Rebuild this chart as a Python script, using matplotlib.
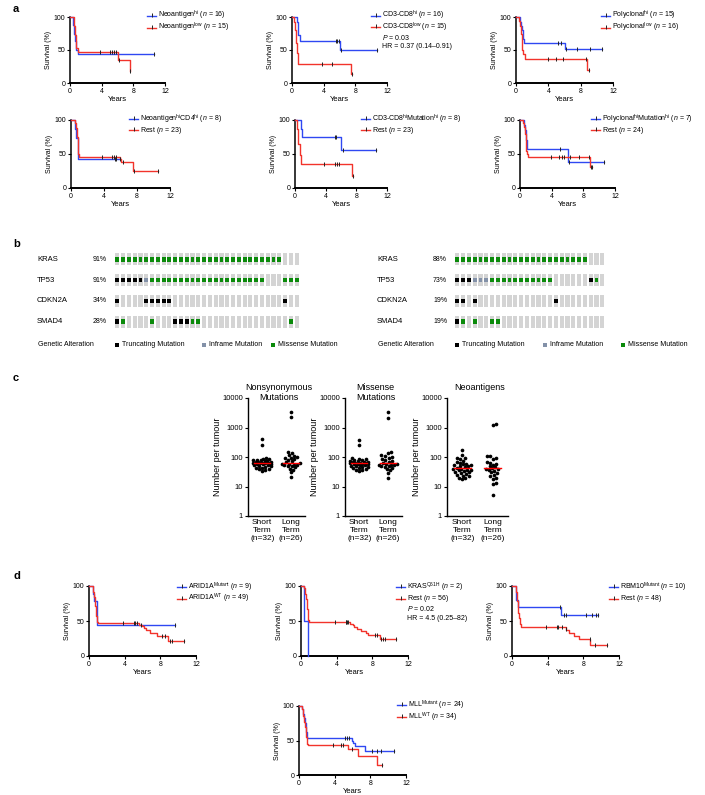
import numpy as np
import matplotlib
matplotlib.use('Agg')
import matplotlib.pyplot as plt

plt.rcParams['font.family'] = ['Liberation Sans', 'DejaVu Sans']
plt.rcParams['mathtext.fontset'] = 'custom'
plt.rcParams['mathtext.rm'] = 'Liberation Sans'
plt.rcParams['mathtext.it'] = 'Liberation Sans:italic'
plt.rcParams['mathtext.bf'] = 'Liberation Sans:bold'

BLUE = '#2f48f2'
RED = '#f2332b'

# ---- panel a: Kaplan-Meier step data (time in years, survival %) and censor times
a1_hi_t = [0, 0.42, 0.55, 0.65, 0.75, 0.95, 10.65]
a1_hi_s = [100, 88, 75, 63, 50, 44, 44]
a1_hi_c = [10.65]
a1_lo_t = [0, 0.5, 0.6, 0.7, 0.8, 1.0, 6.0, 7.55, 7.6]
a1_lo_s = [100, 87, 73, 60, 53, 47, 35, 18, 18]
a1_lo_c = [3.8, 5.0, 5.3, 5.5, 5.8, 6.2, 7.6]

a2_hi_t = [0, 0.6, 0.8, 0.95, 6.05, 10.7]
a2_hi_s = [100, 92, 73, 63, 50, 50]
a2_hi_c = [5.5, 5.7, 5.9, 6.2, 10.7]
a2_lo_t = [0, 0.25, 0.4, 0.55, 0.65, 0.8, 7.5, 7.55]
a2_lo_s = [100, 93, 80, 60, 45, 29, 14, 14]
a2_lo_c = [3.8, 5.1, 7.55]

a3_hi_t = [0, 0.5, 0.6, 0.7, 0.85, 1.0, 6.0, 10.6]
a3_hi_s = [100, 93, 87, 80, 67, 60, 51, 51]
a3_hi_c = [5.2, 5.6, 6.2, 7.5, 9.2, 10.6]
a3_lo_t = [0, 0.4, 0.5, 0.6, 0.7, 0.8, 0.9, 1.1, 8.8, 9.0]
a3_lo_s = [100, 94, 87, 75, 63, 50, 44, 37, 19, 19]
a3_lo_c = [3.9, 4.9, 5.8, 8.7, 9.0]

a4_hi_t = [0, 0.45, 0.6, 0.8, 5.9]
a4_hi_s = [100, 87, 73, 42, 42]
a4_hi_c = [5.3, 5.5, 5.9]
a4_lo_t = [0, 0.5, 0.6, 0.7, 0.8, 0.9, 1.0, 5.9, 6.1, 7.5, 10.6]
a4_lo_s = [100, 96, 88, 75, 62, 50, 46, 42, 38, 25, 25]
a4_lo_c = [3.8, 5.0, 5.2, 5.5, 6.3, 7.6, 10.6]

a5_hi_t = [0, 0.75, 0.9, 6.0, 10.6]
a5_hi_s = [100, 87, 75, 56, 56]
a5_hi_c = [5.2, 5.4, 6.2, 10.6]
a5_lo_t = [0, 0.3, 0.45, 0.6, 0.8, 7.45, 7.5]
a5_lo_s = [100, 87, 65, 48, 35, 17, 17]
a5_lo_c = [3.8, 5.2, 5.5, 5.8, 7.5]

a6_hi_t = [0, 0.5, 0.6, 0.75, 0.9, 6.0, 10.6]
a6_hi_s = [100, 93, 86, 71, 57, 38, 38]
a6_hi_c = [5.1, 6.2, 10.6]
a6_lo_t = [0, 0.4, 0.5, 0.6, 0.7, 0.8, 0.9, 1.0, 8.8, 9.1]
a6_lo_s = [100, 95, 90, 80, 70, 55, 50, 46, 31, 31]
a6_lo_c = [3.9, 4.9, 5.3, 5.5, 6.3, 7.5, 8.7, 8.95, 9.1]

# ---- panel d
d1_mut_t = [0, 0.5, 0.6, 0.85, 9.6]
d1_mut_s = [100, 89, 78, 44, 44]
d1_mut_c = [9.6]
d1_wt_t = [0, 0.4, 0.5, 0.55, 0.6, 0.65, 0.7, 0.75, 0.8, 0.85, 0.9, 1.0,
           5.6, 6.0, 6.2, 6.4, 6.8, 7.6, 8.9, 10.6]
d1_wt_s = [100, 96, 92, 88, 84, 78, 72, 64, 57, 51, 49, 47,
           45, 43, 40, 37, 33, 29, 22, 22]
d1_wt_c = [3.8, 5.0, 5.2, 5.4, 5.8, 8.2, 8.5, 9.1, 9.3, 10.6]

d2_mut_t = [0, 0.3, 0.8]
d2_mut_s = [100, 50, 0]
d2_mut_c = []
d2_rest_t = [0, 0.3, 0.4, 0.5, 0.6, 0.65, 0.7, 0.75, 0.8, 0.9,
             5.5, 5.8, 6.0, 6.3, 6.7, 7.3, 7.5, 8.9, 10.6]
d2_rest_s = [100, 97, 93, 88, 82, 75, 67, 60, 52, 48,
             46, 44, 42, 39, 36, 33, 30, 25, 25]
d2_rest_c = [3.8, 5.0, 5.1, 5.2, 5.3, 8.3, 8.5, 9.0, 9.2, 9.4, 10.6]

d3_mut_t = [0, 0.4, 0.5, 0.7, 5.5, 9.6]
d3_mut_s = [100, 90, 80, 70, 58, 58]
d3_mut_c = [5.4, 5.8, 6.0, 8.3, 9.0, 9.4, 9.6]
d3_rest_t = [0, 0.4, 0.5, 0.55, 0.6, 0.65, 0.7, 0.75, 0.85, 1.0,
             6.0, 6.1, 6.4, 7.0, 7.5, 8.8, 10.6]
d3_rest_s = [100, 96, 92, 85, 78, 70, 62, 55, 46, 41,
             39, 37, 33, 29, 25, 16, 16]
d3_rest_c = [3.8, 5.0, 5.2, 5.6, 6.0, 8.7, 9.3, 10.6]

d4_mut_t = [0, 0.3, 0.4, 0.5, 0.6, 0.7, 0.8, 0.9, 5.9, 6.1, 6.3, 7.4, 10.6]
d4_mut_s = [100, 96, 92, 88, 83, 75, 63, 54, 50, 46, 42, 35, 35]
d4_mut_c = [5.2, 5.4, 5.6, 8.2, 8.7, 9.2, 10.6]
d4_wt_t = [0, 0.3, 0.5, 0.6, 0.7, 0.8, 0.9, 1.0, 5.5, 6.65, 8.8, 9.3]
d4_wt_s = [100, 95, 85, 77, 70, 55, 45, 43, 38, 28, 14, 14]
d4_wt_c = [3.8, 4.7, 4.9, 6.0, 9.3]

# ---- panel b: oncoprint (T truncating, I inframe, M missense, - none)
genes = ['KRAS', 'TP53', 'CDKN2A', 'SMAD4']
short_pct = ['91%', '91%', '34%', '28%']
long_pct = ['88%', '73%', '19%', '19%']
short_alt = [
    'M' * 29 + '---',
    'TTTTTI' + 'M' * 20 + '---MMM',
    'T----TTTTT' + '-' * 19 + 'T--',
    'TM----M---TTTMM' + '-' * 15 + 'M-',
]
long_alt = [
    'M' * 23 + '---',
    'TTTIII' + 'M' * 11 + '-' * 6 + 'TM-',
    'TT-T' + '-' * 13 + 'T' + '-' * 8,
    'TM-M--MM' + '-' * 18,
]

# ---- panel c: mutation / neoantigen counts per tumour
nonsyn_short = [404, 259, 92, 88, 85, 82, 80, 78, 75, 72, 70, 68, 66, 65, 64, 62,
                62, 61, 60, 58, 56, 55, 53, 50, 48, 46, 44, 42, 40, 38, 36, 34]
nonsyn_long = [3300, 2200, 150, 140, 120, 110, 100, 95, 90, 85, 78, 72, 66,
               62, 58, 56, 55, 54, 52, 50, 48, 45, 40, 36, 30, 21]
missense_short = [390, 250, 90, 86, 83, 80, 78, 76, 73, 70, 68, 66, 64, 63, 62, 61,
                  60, 59, 58, 56, 55, 53, 51, 49, 47, 45, 43, 41, 39, 37, 35, 33]
missense_long = [3250, 2150, 145, 135, 115, 105, 98, 92, 88, 82, 75, 70, 64,
                 60, 57, 55, 54, 53, 51, 49, 47, 44, 39, 35, 29, 20]
neo_short = [170, 120, 95, 90, 85, 75, 70, 65, 60, 58, 55, 52, 50, 48, 45, 42,
             40, 38, 37, 36, 35, 33, 31, 30, 28, 27, 25, 23, 22, 20, 19, 18]
neo_long = [1300, 1250, 110, 105, 95, 85, 70, 65, 60, 55, 50, 45, 42,
            40, 38, 36, 34, 30, 28, 25, 22, 20, 18, 13, 12, 5]
group_labels = ['Short\nTerm\n(n=32)', 'Long\nTerm\n(n=26)']

W, H = 705, 795
fig = plt.figure(figsize=(W / 100, H / 100), dpi=100)


def px_axes(l, t, r, b):
    return fig.add_axes([l / W, 1 - b / H, (r - l) / W, (b - t) / H])


# overlay in pixel coordinates for legends and loose text
ov = fig.add_axes([0, 0, 1, 1], zorder=10)
ov.set_xlim(0, W)
ov.set_ylim(H, 0)
ov.axis('off')


def km_curve(ax, t, s, cens, color):
    ax.step(t, s, where='post', color=color, lw=1, clip_on=False, zorder=3)
    t = np.asarray(t, float)
    s = np.asarray(s, float)
    cens = np.asarray(cens, float)
    if len(cens):
        idx = np.searchsorted(t, cens, side='right') - 1
        ax.plot(cens, s[idx], ls='none', marker='|', ms=3, mew=0.7,
                color='#222222', clip_on=False, zorder=4)


def style_km(ax):
    ax.set_xlim(0, 12)
    ax.set_ylim(0, 100)
    ax.set_xticks([0, 4, 8, 12])
    ax.set_yticks([0, 50, 100])
    ax.spines['top'].set_visible(False)
    ax.spines['right'].set_visible(False)
    ax.spines['left'].set_linewidth(1.1)
    ax.spines['bottom'].set_linewidth(1.4)
    ax.tick_params(length=2.5, width=0.8, labelsize=5, pad=1)
    ax.set_ylabel('Survival (%)', fontsize=5, labelpad=1)
    ax.set_xlabel('Years', fontsize=5.5, labelpad=0.5)


def legend_item(x, y, color, label):
    ov.plot([x, x + 9], [y, y], color=color, lw=1)
    ov.plot([x + 4.5], [y - 0.8], marker='|', ms=3, mew=0.7, color='#222222')
    ov.text(x + 11, y, label, fontsize=5, va='center', ha='left')


def n_lab(name, sup, n):
    return name + r'$^{\mathrm{' + sup + r'}}$ ($\it{n}$ = ' + str(n) + ')'


km_panels = [
    dict(rect=(70, 17, 165, 83), lx=147, ly=[15.5, 27.5],
         curves=[(a1_hi_t, a1_hi_s, a1_hi_c), (a1_lo_t, a1_lo_s, a1_lo_c)],
         labels=[n_lab('Neoantigen', 'hi', 16), n_lab('Neoantigen', 'low', 15)]),
    dict(rect=(292, 17, 387, 83), lx=371, ly=[15.5, 27],
         curves=[(a2_hi_t, a2_hi_s, a2_hi_c), (a2_lo_t, a2_lo_s, a2_lo_c)],
         labels=[n_lab('CD3-CD8', 'hi', 16), n_lab('CD3-CD8', 'low', 15)],
         extra=[r'$\it{P}$ = 0.03', 'HR = 0.37 (0.14–0.91)']),
    dict(rect=(516, 17, 613, 83), lx=601, ly=[15.5, 27.5],
         curves=[(a3_hi_t, a3_hi_s, a3_hi_c), (a3_lo_t, a3_lo_s, a3_lo_c)],
         labels=[n_lab('Polyclonal', 'hi', 15), n_lab('Polyclonal', 'low', 16)]),
    dict(rect=(71, 120, 170, 188), lx=129, ly=[119, 130],
         curves=[(a4_hi_t, a4_hi_s, a4_hi_c), (a4_lo_t, a4_lo_s, a4_lo_c)],
         labels=[r'Neoantigen$^{\mathrm{hi}}$' + n_lab('CD4', 'hi', 8),
                 r'Rest ($\it{n}$ = 23)']),
    dict(rect=(295, 120, 387, 188), lx=361, ly=[119, 130],
         curves=[(a5_hi_t, a5_hi_s, a5_hi_c), (a5_lo_t, a5_lo_s, a5_lo_c)],
         labels=[r'CD3-CD8$^{\mathrm{hi}}$' + n_lab('Mutation', 'hi', 8),
                 r'Rest ($\it{n}$ = 23)']),
    dict(rect=(520, 120, 615, 188), lx=591, ly=[119, 130],
         curves=[(a6_hi_t, a6_hi_s, a6_hi_c), (a6_lo_t, a6_lo_s, a6_lo_c)],
         labels=[r'Polyclonal$^{\mathrm{hi}}$' + n_lab('Mutation', 'hi', 7),
                 r'Rest ($\it{n}$ = 24)']),
    dict(rect=(89, 586, 196, 656), lx=177, ly=[587, 598.5],
         curves=[(d1_mut_t, d1_mut_s, d1_mut_c), (d1_wt_t, d1_wt_s, d1_wt_c)],
         labels=[n_lab('ARID1A', 'Mutant', 9), n_lab('ARID1A', 'WT', 49)]),
    dict(rect=(301, 586, 408, 656), lx=396, ly=[587, 598.5],
         curves=[(d2_mut_t, d2_mut_s, d2_mut_c), (d2_rest_t, d2_rest_s, d2_rest_c)],
         labels=[n_lab('KRAS', 'Q61H', 2), r'Rest ($\it{n}$ = 56)'],
         extra=[r'$\it{P}$ = 0.02', 'HR = 4.5 (0.25–82)']),
    dict(rect=(512, 586, 619, 656), lx=609, ly=[587, 598.5],
         curves=[(d3_mut_t, d3_mut_s, d3_mut_c), (d3_rest_t, d3_rest_s, d3_rest_c)],
         labels=[n_lab('RBM10', 'Mutant', 10), r'Rest ($\it{n}$ = 48)']),
    dict(rect=(299, 706, 406, 775), lx=397, ly=[705, 717],
         curves=[(d4_mut_t, d4_mut_s, d4_mut_c), (d4_wt_t, d4_wt_s, d4_wt_c)],
         labels=[n_lab('MLL', 'Mutant', 24), n_lab('MLL', 'WT', 34)]),
]

for p in km_panels:
    ax = px_axes(*p['rect'])
    style_km(ax)
    for (t, s, c), col in zip(p['curves'], [BLUE, RED]):
        km_curve(ax, t, s, c, col)
    for y, lab, col in zip(p['ly'], p['labels'], [BLUE, RED]):
        legend_item(p['lx'], y, col, lab)
    for k, txt in enumerate(p.get('extra', [])):
        ov.text(p['lx'] + 11, p['ly'][1] + 10 * (k + 1), txt, fontsize=5,
                va='center', ha='left')

# ---- panel b
alt_colors = {'T': 'black', 'I': '#8391a8', 'M': '#0a8a0a'}


def oncoprint(rect, alts, pcts, label_x, pct_x):
    ax = px_axes(*rect)
    n = len(alts[0])
    cols = np.arange(n)
    for r, row in enumerate(alts):
        ax.bar(cols, 0.56, bottom=r - 0.28, width=0.72, color='#d4d4d4', lw=0)
        for code, col in alt_colors.items():
            sel = [j for j, ch in enumerate(row) if ch == code]
            if sel:
                ax.bar(sel, 0.22, bottom=r - 0.11, width=0.66, color=col, lw=0)
    ax.set_xlim(-0.5, n - 0.5)
    ax.set_ylim(len(alts) - 0.5, -0.5)
    ax.axis('off')
    top, bottom = rect[1], rect[3]
    rh = (bottom - top) / len(alts)
    for r, (g, pc) in enumerate(zip(genes, pcts)):
        yc = top + rh * (r + 0.5)
        ov.text(label_x, yc, g, fontsize=5.5, va='center', ha='left')
        ov.text(pct_x, yc, pc, fontsize=5, va='center', ha='left')


oncoprint((114.4, 248.9, 299.6, 332.1), short_alt, short_pct, 37, 93)
oncoprint((454.4, 248.9, 605.2, 332.1), long_alt, long_pct, 377, 433)

for gx, sq in [(38, [117, 204, 273]), (378, [457, 545, 623])]:
    ov.text(gx, 345, 'Genetic Alteration', fontsize=5, va='center')
    for x, code, lab in zip(sq, 'TIM', ['Truncating Mutation', 'Inframe Mutation',
                                        'Missense Mutation']):
        ov.plot([x], [344.5], marker='s', ms=2.6, color=alt_colors[code], mew=0)
        ov.text(x + 5, 345, lab, fontsize=5, va='center')


# ---- panel c
def swarm(vals, center, xpx, ypx, diam=3.2, maxoff=9.0):
    # horizontal spreading of dots (pixel space), capped width like Prism
    vals = np.asarray(vals, float)
    ys = np.log10(vals) * ypx
    offs = [0.0]
    o = 0.8
    while o <= maxoff:
        offs += [o, -o]
        o += 0.8
    placed = []
    xs = np.empty(len(vals))
    for i in np.argsort(ys):
        best, best_d = 0.0, -1.0
        for o in offs:
            d = min([np.hypot(o - qx, ys[i] - qy) for qx, qy in placed] or [99])
            if d >= diam:
                best = o
                break
            if d > best_d:
                best, best_d = o, d
        placed.append((best, ys[i]))
        xs[i] = center + best / xpx
    return xs


dot_panels = [
    ((248, 398, 305, 516), nonsyn_short, nonsyn_long, ['Nonsynonymous', 'Mutations']),
    ((345, 398, 402, 516), missense_short, missense_long, ['Missense', 'Mutations']),
    ((447, 398, 508, 516), neo_short, neo_long, ['Neoantigens']),
]
for rect, sv, lv, title in dot_panels:
    ax = px_axes(*rect)
    ax.set_yscale('log')
    ax.set_ylim(1, 10000)
    ax.set_xlim(-0.5, 1.5)
    xpx = (rect[2] - rect[0]) / 2.0
    ypx = (rect[3] - rect[1]) / 4.0
    for i, vals in enumerate([sv, lv]):
        xs = swarm(vals, i, xpx, ypx)
        ax.scatter(xs, vals, s=7, color='black', lw=0, zorder=3, clip_on=False)
        med = np.median(vals)
        ax.plot([i - 0.28, i + 0.28], [med, med], color='red', lw=1, zorder=4)
    ax.set_yticks([1, 10, 100, 1000, 10000])
    ax.set_yticklabels(['1', '10', '100', '1000', '10000'])
    ax.yaxis.set_minor_locator(matplotlib.ticker.NullLocator())
    ax.set_xticks([0, 1])
    ax.set_xticklabels(group_labels, fontsize=6)
    ax.tick_params(axis='x', length=0, pad=2)
    ax.tick_params(axis='y', length=2.5, width=0.8, labelsize=5.5, pad=1)
    ax.spines['top'].set_visible(False)
    ax.spines['right'].set_visible(False)
    ax.spines['left'].set_linewidth(1.0)
    ax.spines['bottom'].set_linewidth(1.0)
    ax.set_ylabel('Number per tumour', fontsize=6.5, labelpad=0)
    cx = (rect[0] + rect[2]) / 2 + 2
    for k, line in enumerate(title):
        ov.text(cx, 387 + 10 * k, line, fontsize=6.5, ha='center', va='center')

# panel letters
for lab, y in [('a', 9), ('b', 244), ('c', 378), ('d', 576)]:
    ov.text(13, y, lab, fontsize=8, fontweight='bold', va='center', ha='left')

fig.savefig('out.png', dpi=100)
